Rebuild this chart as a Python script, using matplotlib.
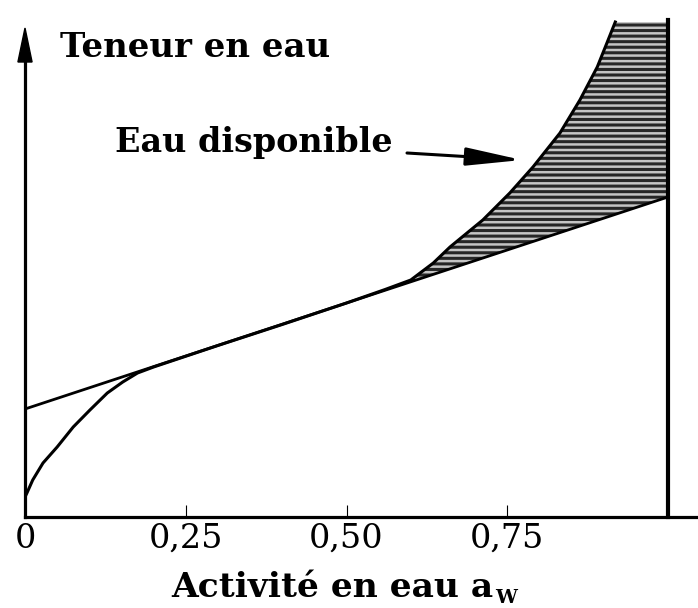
import matplotlib
matplotlib.use("Agg")
import matplotlib.pyplot as plt
import numpy as np

# ---- data ----
# x: water activity a_w ; y: water content (arbitrary units)
curve_aw = [0.0, 0.003, 0.012, 0.028, 0.050, 0.075, 0.101, 0.128, 0.152,
            0.175, 0.20, 0.30, 0.40, 0.50, 0.56, 0.60, 0.635, 0.661,
            0.712, 0.754, 0.790, 0.832, 0.863, 0.890, 0.905, 0.918]
curve_y = [4.0, 4.8, 7.4, 10.8, 14.0, 18.0, 21.4, 24.8, 27.0,
           28.8, 30.0, 34.3, 38.5, 42.8, 45.5, 47.4, 50.8, 54.0,
           59.4, 64.8, 70.0, 76.8, 83.4, 90.0, 94.8, 99.0]
line_aw = [0.0, 1.0]
line_y = [21.6, 64.0]
top_y = 99.0
fill_start = 0.56

xtick_vals = [0, 0.25, 0.50, 0.75]
xtick_labels = ["0", "0,25", "0,50", "0,75"]

ylabel_text = "Teneur en eau"
xlabel_text = "Activité en eau a"
xlabel_sub = "W"
annot_text = "Eau disponible"

SERIF = ["DejaVu Serif"]

W, H = 698, 608
fig = plt.figure(figsize=(W / 100, H / 100), dpi=100)
fig.patch.set_facecolor("white")

x0_px, y0_px = 25, 517
ax = fig.add_axes([x0_px / W, (H - y0_px) / H, (W - x0_px) / W, y0_px / H])
px_per_x = 643.0
ax.set_xlim(0, (W - x0_px) / px_per_x)
ax.set_ylim(0, y0_px / 5.0)
ax.set_facecolor("white")

for s in ["top", "right"]:
    ax.spines[s].set_visible(False)
ax.spines["left"].set_linewidth(2.3)
ax.spines["bottom"].set_linewidth(2.3)
ax.spines["left"].set_bounds(0, 92)

ax.set_yticks([])
ax.set_xticks(xtick_vals)
ax.set_xticklabels(xtick_labels, family=SERIF, fontsize=24)
ax.tick_params(axis="x", direction="in", length=9, width=0.8, pad=4)

# arrow head on y axis
ax.fill([-0.011, 0.0, 0.011], [91.0, 97.8, 91.0], color="black",
        clip_on=False, zorder=5)

# shaded "available water" region
cx = np.array(curve_aw)
cy = np.array(curve_y)
m = cx >= fill_start
ux = list(cx[m]) + [1.0]
uy = list(cy[m]) + [top_y]
lx = [1.0, fill_start]
ly = list(np.interp(lx, line_aw, line_y))
poly_x = ux + lx
poly_y = uy + ly
plt.rcParams["hatch.linewidth"] = 2.2
ax.fill(poly_x, poly_y, facecolor="#c4c4c4", edgecolor="#262626",
        hatch="---", linewidth=0, zorder=1)

# straight line and isotherm curve
ax.plot(line_aw, line_y, color="black", lw=2.0, zorder=3)
ax.plot(curve_aw, curve_y, color="black", lw=2.2, zorder=3)

# vertical line at a_w = 1
ax.plot([1.0, 1.0], [0, top_y + 0.4], color="black", lw=3.0, zorder=4,
        clip_on=False)

# texts
ax.text(0.054, 92.0, ylabel_text, family=SERIF, fontsize=24.5,
        fontweight="bold", ha="left", va="baseline")
ax.text(0.140, 73.0, annot_text, family=SERIF, fontsize=24,
        fontweight="bold", ha="left", va="baseline")
ax.annotate("", xy=((522 - x0_px) / px_per_x, (y0_px - 160) / 5.0),
            xytext=((407 - x0_px) / px_per_x, (y0_px - 153) / 5.0),
            arrowprops=dict(arrowstyle="-|>,head_length=3.4,head_width=0.55",
                            lw=2.2, color="black", shrinkA=0, shrinkB=0))

fig.text(493 / W, 1 - 597 / H, xlabel_text, family=SERIF, fontsize=24.8,
         fontweight="bold", ha="right", va="baseline")
fig.text(495 / W, 1 - 603 / H, xlabel_sub, family=SERIF, fontsize=14,
         fontweight="bold", ha="left", va="baseline")

fig.savefig("out.png", dpi=100, facecolor="white")
